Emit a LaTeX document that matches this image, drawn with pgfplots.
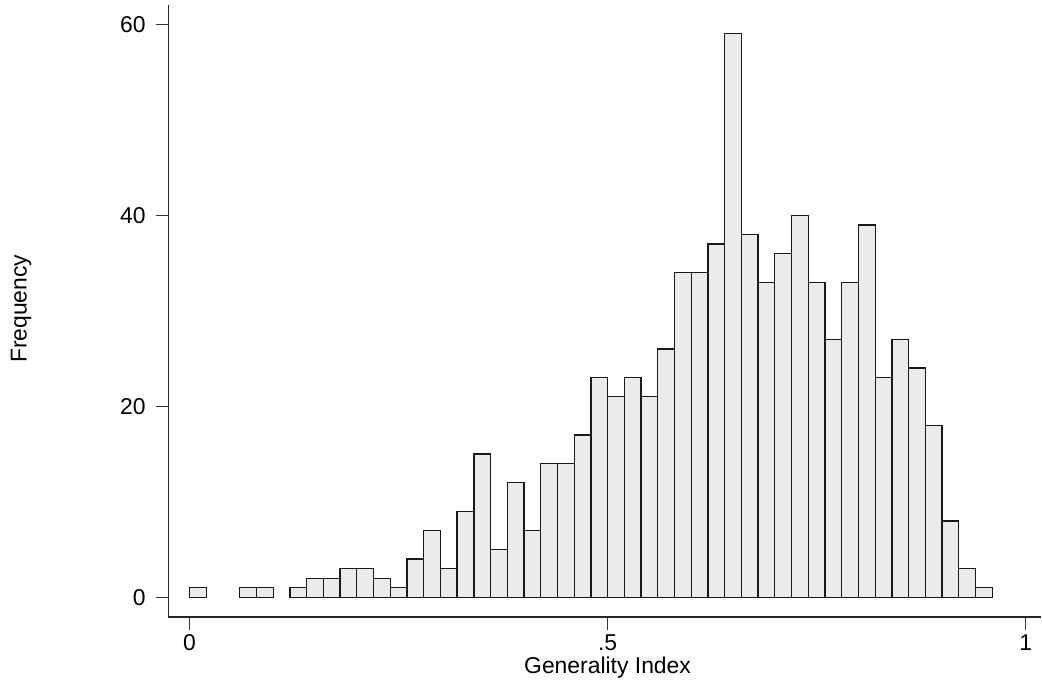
\documentclass[border=0pt]{standalone}
\usepackage{fontspec}
\setmainfont{Liberation Sans}
\usepackage{pgfplots}
\pgfplotsset{compat=1.18}

% bin centres (width .02) and counts; empty bins left out
\pgfplotstableread{
x     f
0.01  1
0.07  1
0.09  1
0.13  1
0.15  2
0.17  2
0.19  3
0.21  3
0.23  2
0.25  1
0.27  4
0.29  7
0.31  3
0.33  9
0.35  15
0.37  5
0.39  12
0.41  7
0.43  14
0.45  14
0.47  17
0.49  23
0.51  21
0.53  23
0.55  21
0.57  26
0.59  34
0.61  34
0.63  37
0.65  59
0.67  38
0.69  33
0.71  36
0.73  40
0.75  33
0.77  27
0.79  33
0.81  39
0.83  23
0.85  27
0.87  24
0.89  18
0.91  8
0.93  3
0.95  1
}\hist

\begin{document}
\fontsize{11.5}{13}\selectfont
\begin{tikzpicture}
\begin{axis}[
    scale only axis,
    width=436.85bp, height=306.15bp,
    xmin=-0.0256, xmax=1.0188,
    ymin=-2.05, ymax=62.02,
    axis x line*=bottom, axis y line*=left,
    axis line style={black!85, line width=0.65bp},
    xtick={0,0.5,1}, xticklabels={0,.5,1},
    ytick={0,20,40,60}, yticklabels={0,20,40,60},
    tick align=outside,
    major tick length=6.3bp,
    tick style={black!80, line width=0.6bp},
    /pgf/number format/assume math mode=true,
    ticklabel style={font=\fontsize{11.5}{13}\selectfont},
    y tick label style={xshift=-1bp},
    x tick label style={yshift=1.5bp},
    xlabel={Generality Index},
    ylabel={Frequency},
    xlabel style={at={(axis description cs:0.5032,-0.0926)}, anchor=base},
    ylabel style={at={(axis description cs:-0.162,0.5035)}, anchor=base},
    label style={font=\fontsize{11.5}{13}\selectfont},
]
\addplot[ybar, bar width=0.02, fill=black!8, draw=black!90, line width=0.65bp]
    table[x=x, y=f] {\hist};
\end{axis}
\useasboundingbox (-84.15bp,-33.85bp) rectangle (436.85bp,308.65bp);
\end{tikzpicture}
\end{document}
